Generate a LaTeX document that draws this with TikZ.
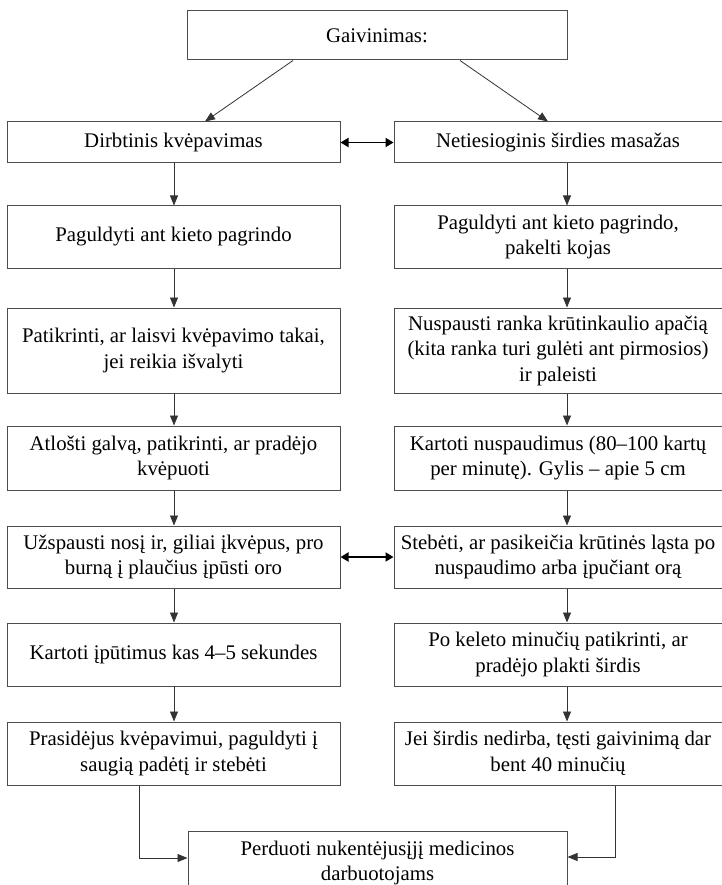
\documentclass[tikz,border=0pt]{standalone}
\usepackage{fontspec}
\setmainfont{Liberation Serif}
\usetikzlibrary{arrows.meta}
\begin{document}
\begin{tikzpicture}[x=1pt,y=-1pt,
  box/.style={draw=black!70, line width=1pt, rectangle, inner sep=0pt, align=center,
    font=\fontsize{20.8}{25.5}\selectfont, text=black},
  arr/.style={draw=black!80, line width=0.8pt, -{Triangle[length=10pt,width=8pt]}},
  dbl/.style={draw=black, line width=1.8pt, {Triangle[length=8pt,width=9pt]}-{Triangle[length=8pt,width=9pt]}}
]
\useasboundingbox (0,0) rectangle (721,885);
\fill[white] (0,0) rectangle (721,885);

\node[box, minimum width=380pt, minimum height=49pt] (top) at (377,35.5) {Gaivinimas:};

\node[box, minimum width=333pt, minimum height=41pt] (L1) at (173.5,142.5) {Dirbtinis kvėpavimas};
\node[box, minimum width=328pt, minimum height=41pt] (R1) at (558,142.5) {Netiesioginis širdies masažas};

\node[box, minimum width=333pt, minimum height=62pt] (L2) at (173.5,237) {Paguldyti ant kieto pagrindo};
\node[box, minimum width=328pt, minimum height=62pt] (R2) at (558,237) {Paguldyti ant kieto pagrindo,\\pakelti kojas};

\node[box, minimum width=333pt, minimum height=85pt] (L3) at (173.5,350.5) {Patikrinti, ar laisvi kvėpavimo takai,\\jei reikia išvalyti};
\node[box, minimum width=328pt, minimum height=85pt] (R3) at (558,350.5) {Nuspausti ranka krūtinkaulio apačią\\(kita ranka turi gulėti ant pirmosios)\\ir paleisti};

\node[box, minimum width=333pt, minimum height=64pt] (L4) at (173.5,458) {Atlošti galvą, patikrinti, ar pradėjo\\kvėpuoti};
\node[box, minimum width=328pt, minimum height=64pt] (R4) at (558,458) {Kartoti nuspaudimus (80–100 kartų\\per minutę). Gylis – apie 5 cm};

\node[box, minimum width=333pt, minimum height=62pt] (L5) at (173.5,557) {Užspausti nosį ir, giliai įkvėpus, pro\\burną į plaučius įpūsti oro};
\node[box, minimum width=328pt, minimum height=62pt] (R5) at (558,557) {Stebėti, ar pasikeičia krūtinės ląsta po\\nuspaudimo arba įpučiant orą};

\node[box, minimum width=333pt, minimum height=63pt] (L6) at (173.5,654.5) {Kartoti įpūtimus kas 4–5 sekundes};
\node[box, minimum width=328pt, minimum height=63pt] (R6) at (558,654.5) {Po keleto minučių patikrinti, ar\\pradėjo plakti širdis};

\node[box, minimum width=333pt, minimum height=63pt] (L7) at (173.5,753.5) {Prasidėjus kvėpavimui, paguldyti į\\saugią padėtį ir stebėti};
\node[box, minimum width=328pt, minimum height=63pt] (R7) at (558,753.5) {Jei širdis nedirba, tęsti gaivinimą dar\\bent 40 minučių};

\node[box, minimum width=379pt, minimum height=64pt] (bot) at (377.5,863) {Perduoti nukentėjusįjį medicinos\\darbuotojams};

% helper coordinates
\coordinate (d1) at (293,0);
\coordinate (d2) at (205,0);
\coordinate (d3) at (460,0);
\coordinate (d4) at (548,0);
\coordinate (xl) at (174,0);
\coordinate (xr) at (567,0);
\coordinate (bl) at (139,858);
\coordinate (br) at (615,857);

\draw[arr] (top.south -| d1) -- (L1.north -| d2);
\draw[arr] (top.south -| d3) -- (R1.north -| d4);

\foreach \a/\b in {L1/L2,L2/L3,L3/L4,L4/L5,L5/L6,L6/L7}
  \draw[arr] (\a.south -| xl) -- (\b.north -| xl);
\foreach \a/\b in {R1/R2,R2/R3,R3/R4,R4/R5,R5/R6,R6/R7}
  \draw[arr] (\a.south -| xr) -- (\b.north -| xr);

\draw[dbl] (L1.east) -- (R1.west);
\draw[dbl] (L5.east) -- (R5.west);

\draw[arr] (L7.south -| bl) |- (bot.west |- bl);
\draw[arr] (R7.south -| br) |- (bot.east |- br);
\end{tikzpicture}
\end{document}
